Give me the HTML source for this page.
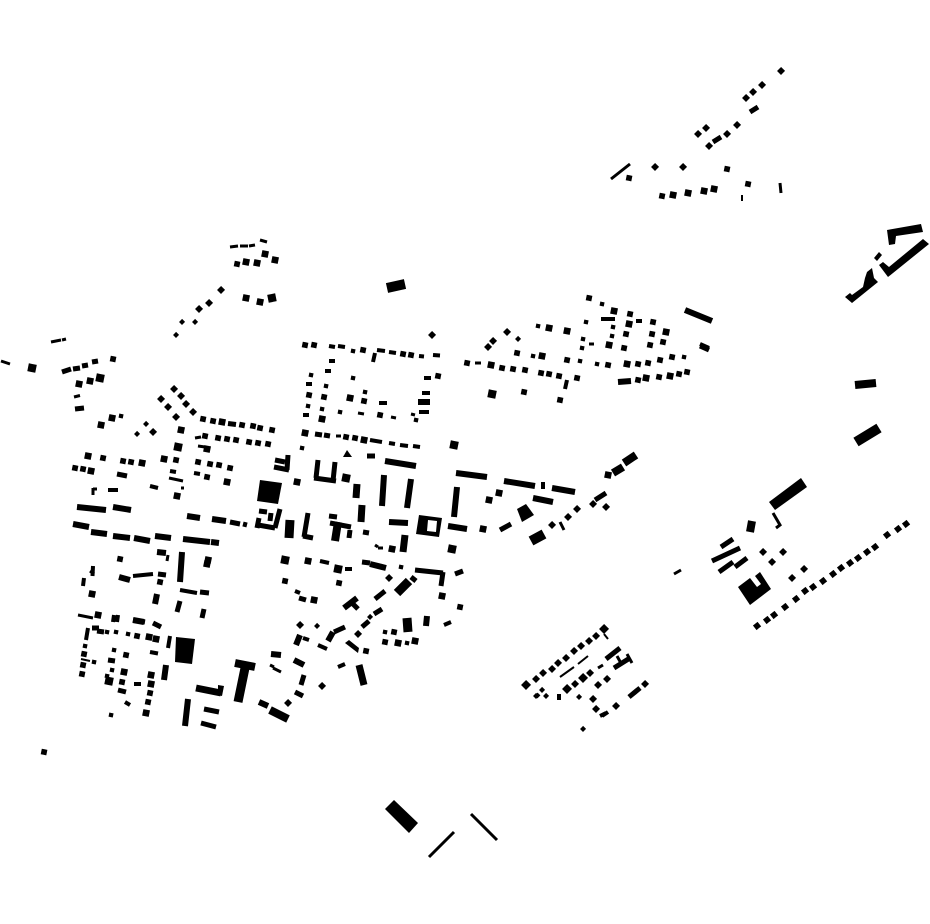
<!DOCTYPE html>
<html><head><meta charset="utf-8"><title>Figure-ground plan</title>
<style>html,body{margin:0;padding:0;background:#fff}svg{display:block}</style></head>
<body>
<svg xmlns="http://www.w3.org/2000/svg" width="930" height="924" viewBox="0 0 930 924" fill="none" stroke="#000">
<g stroke-linecap="square">
<path stroke-width="4.2" d="M121 416l.1.02M116 632l.1.02M94 662l.1.02M107 632l.1.02M114 650l.1.02M85 646l.1.02M112 670l.1.02M353 378l.1.02M365 392l.1.02M340 412l.1.02M311 375l.1.02M326 386l.1.02M308 406l.1.02M322 409l.1.02M353 351l.1.02M302 448l.1.02M385 632l.1.02M416 420l.1.02M401 567l.1.02M586 322l.1.02M583 339l.1.02M582 348l.1.02M538 326l.1.02M533 356l.1.02M580 361l.1.02M597 364l.1.02M613 327l.1.02M612 336l.1.02M684 357l.1.02M602 304l.1.02M111 715l.1.02M128 634l.1.02M407 643l.1.02M107 676l.1.02"/>
<path stroke-width="5.6" d="M113 359l.1.02M103 458l.1.02M123 461l.1.02M131 462l.1.02M176 460l.1.02M198 462l.1.02M210 464l.1.02M219 465l.1.02M230 468l.1.02M75 468l.1.02M83 469l.1.02M203 419l.1.02M213 421l.1.02M242 425l.1.02M253 426l.1.02M260 428l.1.02M272 430l.1.02M205 436l.1.02M218 438l.1.02M227 439l.1.02M236 440l.1.02M249 442l.1.02M258 443l.1.02M268 444l.1.02M207 477l.1.02M120 559l.1.02M160 582l.1.02M137 636l.1.02M83 665l.1.02M82 674l.1.02M122 682l.1.02M150 693l.1.02M126 655l.1.02M305 345l.1.02M314 345l.1.02M363 350l.1.02M403 354l.1.02M411 355l.1.02M309 395l.1.02M324 397l.1.02M364 401l.1.02M380 415l.1.02M346 437l.1.02M355 438l.1.02M438 376l.1.02M366 651l.1.02M589 298l.1.02M630 314l.1.02M653 322l.1.02M626 334l.1.02M650 345l.1.02M624 348l.1.02M517 353l.1.02M467 363l.1.02M502 368l.1.02M513 369l.1.02M525 370l.1.02M541 373l.1.02M549 374l.1.02M559 376l.1.02M577 378l.1.02M567 360l.1.02M608 365l.1.02M638 364l.1.02M648 363l.1.02M660 360l.1.02M672 357l.1.02M638 380l.1.02M659 377l.1.02M679 374l.1.02M687 372l.1.02M524 392l.1.02M560 400l.1.02M663 342l.1.02M652 334l.1.02M385 642l.1.02M394 632l.1.02M285 581l.1.02M44 752l.1.02M629 178l.1.02M748 184l.1.02M727 169l.1.02M662 196l.1.02M84 654l.1.02M148 702l.1.02M237 264l.1.02M339 583l.1.02M460 607l.1.02"/>
<path stroke-width="6.6" d="M79 384l.1.02M90 381l.1.02M88 456l.1.02M91 471l.1.02M142 463l.1.02M164 459l.1.02M181 430l.1.02M101 425l.1.02M112 418l.1.02M222 422l.1.02M207 449l.1.02M92 594l.1.02M98 615l.1.02M149 637l.1.02M156 639l.1.02M124 672l.1.02M151 675l.1.02M151 684l.1.02M314 600l.1.02M177 496l.1.02M350 398l.1.02M322 419l.1.02M305 433l.1.02M364 440l.1.02M614 311l.1.02M549 328l.1.02M567 331l.1.02M629 324l.1.02M666 332l.1.02M609 345l.1.02M542 356l.1.02M491 365l.1.02M627 364l.1.02M646 378l.1.02M670 376l.1.02M673 195l.1.02M688 193l.1.02M704 191l.1.02M714 189l.1.02M398 643l.1.02M415 641l.1.02M442 596l.1.02M489 500l.1.02M499 493l.1.02M483 529l.1.02M608 475l.1.02M227 482l.1.02M297 482l.1.02M308 561l.1.02M208 560l.1.02M207 564l.1.02M146 713l.1.02M246 262l.1.02M257 263l.1.02M265 254l.1.02M275 260l.1.02M246 298l.1.02M260 302l.1.02M392 549l.1.02"/>
<path stroke-width="8" d="M32 368l.1.02M454 445l.1.02M100 378l.1.02M109 681l.1.02M346 478l.1.02M338 569l.1.02M285 560l.1.02M452 549l.1.02M492 394l.1.02M272 298l-.1.02M178 447l.1.02"/>
<path stroke-width="4.2" d="M146 424l.1-.1M137 434l.1-.1M536 696l.1-.1M542 690l.1-.1M546 696l.1-.1M579 697l.1-.1M583 729l.1-.1M518 339l.1-.1M317 626l.1-.1M370 617l.1-.1M176 335l.1-.1M182 322l.1-.1M195 322l.1-.1"/>
<path stroke-width="5.6" d="M174 389l.1-.1M161 399l.1-.1M181 396l.1-.1M168 407l.1-.1M186 404l.1-.1M176 417l.1-.1M193 412l.1-.1M153 432l.1-.1M507 332l.1-.1M493 341l.1-.1M488 347l.1-.1M655 167l.1-.1M683 167l.1-.1M781 71l.1-.1M762 85l.1-.1M753 92l.1-.1M746 98l.1-.1M737 125l.1-.1M727 134l.1-.1M709 146l.1-.1M706 128l.1-.1M698 134l.1-.1M221 290l.1-.1M199 309l.1-.1M389 578l.1-.1M358 634l.1-.1M322 686l.1-.1M288 703l.1-.1M300 625l.1-.1M552 525l.1-.1M593 504l.1-.1M606 507l.1-.1M763 552l.1-.1M772 562l.1-.1M783 552l.1-.1M792 578l.1-.1M804 569l.1-.1M590 673l.1-.1M575 684l.1-.1M598 685l.1-.1M607 679l.1-.1M593 699l.1-.1M596 709l.1-.1M616 706l.1-.1M645 684l.1-.1M536 679l.1-.1M543 673l.1-.1M552 669l.1-.1M558 663l.1-.1M566 658l.1-.1M574 651l.1-.1M581 646l.1-.1M589 641l.1-.1M596 636l.1-.1M568 517l.1-.1M577 509l.1-.1M432 335l.1-.1M209 303l.1-.1"/>
<path stroke-width="7" d="M526 685l.1-.1M604 629l.1-.1M583 678l.1-.1M567 689l.1-.1"/>
<path stroke-width="5.8" d="M757 626l.1-.08M767 620l.1-.08M774 615l.1-.08M785 607l.1-.08M796 599l.1-.08M805 591l.1-.08M813 587l.1-.08M823 581l.1-.08M833 574l.1-.08M841 568l.1-.08M850 563l.1-.08M858 558l.1-.08M867 552l.1-.08M875 547l.1-.08M887 535l.1-.08M898 529l.1-.08M906 524l.1-.08"/>
</g>
<path stroke-width="2" d="M81 659l9 2M560 677l14-10M578 664l10-8M604 634l4 5M742 195v6"/>
<path stroke-width="3" d="M1 361l9 3M51 342l10-2M62 340l4-1M74 397l6-1.500M169 478l14 3M93 488v7M93 489h4M78 615l15 3M270 665l4 2M273 668l8 4M230 247l8-1M240 246l8 0M249 246l6-1M260 240l7 2M168 555l-1 6M674 574l7-4M598 668l5-3M429 857l25-25M471 814l26 26M611 179l19-15M780 183l1 10M198 446l7 1M195 438l6-1M90 571l4 3M475 363h6M617 656l5 9M627 654l5 9M773 513l7 12-4 3M560 522l4 8M589 344h5M336 436h5M391 417l5 1M358 413l6 1M411 414l4 1M378 548h5M375 545l3 2M181 488l3 0"/>
<path stroke-width="4" d="M133 576l20-2M84 578l-1 8M88 628l-2 12M114 615l-1 7M118 615l-1 7M170 636l-2 12M150 652l8 1.500M134 684h7M125 702l5 3M303 638l6 2M318 645l9 4M444 625l7-3M338 667l7-3M170 471l6 1M194 473l6 1M329 361h6M325 371h6M306 384h6M303 415h6M424 378h7M329 346l6 1M338 346l7 1M377 350l8 1M389 352l7 1M419 356l5 .500M433 355l7 .500M370 440l12 2M389 443l6 1M400 445l8 1M413 446l7 1M379 403h8M295 591l5 2M150 486l8 2M108 490h10M180 590l17 3M601 319h14M636 321h6M623 382h6M700 344l9 4M567 380l-2 9M375 353l-2 9M543 482v7M600 716l6-3M536 697l3-3M559 694v6M602 716l6-4M345 569h7M320 561l9 2M93 566l-.5 10M422 393h8M419 412h10"/>
<path stroke-width="5" d="M62 372l9-3M73 369l7-1M82 366l6-1M92 362l6-1M75 409l9-1M228 423.500l8 1M153 623l8 4M117 474l10 2M200 592l9 1M133 620l12 2M230 522l10 2M243 524l4 1M204 709l15 3M201 723l15 4M180 601l-3 11M204 609l-2 9M315 434l7 1M324 435l6 1M367 456h8M595 500l11-7M500 530l11-6M629 697l11-9M614 668l16-10M606 659l14-11M712 561l28-13M719 572l14-10M735 567l12-9M721 547l12-8M375 599l10-8M374 614l8-5M362 627l7-6M334 632l11-5M350 601l8 8M274 467l15 3M288 455l-1 15M275 460l10 2M318 460l-2 18M314 478l22 3M335 462l-2 19M259 511l8 1M258 525l17 3M259 518l-2 10M280 509l-5 19M271 513l-1 8M308 513l-4 24M303 536l10 2M329 516l8 1M330 523l21 4M350 530l-1 8M363 532l6 1M411 577l5 4M415 570l28 3M443 572l-2 14M455 574l8-3M92 628h7M97 631l7 1M118 690l8 2M108 660l7 1M158 574l8 1M362 562l8 1M299 598l7 2M700 346l9 4M750 112l8-5M713 142l8-5M295 692l8 4M304 675l-3 10"/>
<path stroke-width="6" d="M77 507l29 3M113 507l18 3M187 516l13 2M212 519l14 2M73 524l16 3M91 532l16 2M113 536l17 2M134 538l16 3M155 536l16 2M183 539l27 3M211 542l8 1M119 577l11 3M182 552l-2 30M166 665l-2 15M157 594l-2 10M157 552l9 1M133 620l11 2M188 699l-3 27M385 461l31 5M384 475l-2 31M411 479l-4 29M457 487l-3 30M389 522l19 1M448 526l19 3M456 473l31 4M504 481l31 5M552 488l23 4M533 498l20 4M370 564l16 4M685 310l27 11M618 382l13-1M344 608l13-10M259 702l9 4M271 654l10 1M294 660l10 5M328 641l5-9M296 645l4-10M418 402h12M427 616l-1 10"/>
<path stroke-width="7" d="M196 688l25 5M357 484l-1 14M362 505l-1 17M405 535l-2 17M359 665l5 20"/>
<path stroke-width="8" d="M235 663l20 4M338 522l-3 19M613 473l10-6M624 463l12-8M270 710l18 9M855 385l21-2M752 521l-2 11"/>
<path stroke-width="9" d="M245 668l-7 34M290 520l-1 18M407 618l1 14M397 593l12-12"/>
<path stroke-width="10" d="M387 288l18-4M856 442l23-14M531 541l13-7"/>
<g fill="#000" stroke="none">
<polygon points="260,480 282,483 278,504 257,501"/>
<polygon points="176,637 195,639 192,664 175,662"/>
<polygon points="419,515 442,518 439,537 416,534"/>
<polygon points="517,509 526,504 534,515 522,522"/>
<polygon points="769,502 801,478 807,487 775,510"/>
<polygon points="738,587 750,578 757,587 761,584 755,576 760,572 771,589 750,605"/>
<polygon points="385,809 394,800 418,823 409,833"/>
<polygon points="887,230 921,224 923,232 896,236 895,244 889,245"/>
<polygon points="929,244 888,277 879,265 883,262 889,267 923,239"/>
<polygon points="845,297 850,293 852,295 863,287 865,278 867,272 872,268 874,278 878,282 852,303"/>
<polygon points="874,258 879,252 882,255 877,261"/>
<polygon points="345,643 349,640 359,648 358,653"/>
<polygon points="218,685 224,686 222,696 218,695"/>
<polygon points="343,457 347,450 352,457"/>
<polygon points="428,520 437,521 436,532 427,531" fill="#fff"/>
</g>
</svg>
</body></html>
